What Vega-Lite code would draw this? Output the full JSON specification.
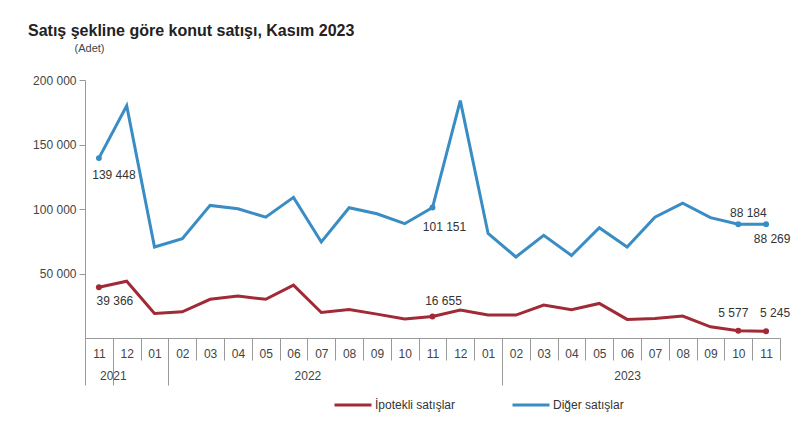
{
  "$schema": "https://vega.github.io/schema/vega-lite/v6.json",
  "width": 695,
  "height": 258,
  "autosize": {"type": "none"},
  "padding": {"left": 85, "top": 80, "right": 22, "bottom": 85},
  "background": "white",
  "title": {
    "text": "Satış şekline göre konut satışı, Kasım 2023",
    "anchor": "start",
    "frame": "group",
    "dx": -57,
    "offset": 3,
    "font": "Liberation Sans",
    "fontSize": 16,
    "fontWeight": "bold",
    "color": "#222222"
  },
  "config": {
    "view": {"stroke": null},
    "font": "Liberation Sans",
    "axis": {"labelFont": "Liberation Sans", "labelColor": "#444444", "labelFontSize": 12, "domainColor": "#999999", "tickColor": "#999999", "grid": false}
  },
  "data": {
    "values": [
      {"ay": "2021-11", "seri": "İpotekli satışlar", "deger": 39366, "etiket": "39 366"},
      {"ay": "2021-12", "seri": "İpotekli satışlar", "deger": 44000},
      {"ay": "2022-01", "seri": "İpotekli satışlar", "deger": 19000},
      {"ay": "2022-02", "seri": "İpotekli satışlar", "deger": 20300},
      {"ay": "2022-03", "seri": "İpotekli satışlar", "deger": 30000},
      {"ay": "2022-04", "seri": "İpotekli satışlar", "deger": 32500},
      {"ay": "2022-05", "seri": "İpotekli satışlar", "deger": 30000},
      {"ay": "2022-06", "seri": "İpotekli satışlar", "deger": 41000},
      {"ay": "2022-07", "seri": "İpotekli satışlar", "deger": 19800},
      {"ay": "2022-08", "seri": "İpotekli satışlar", "deger": 22000},
      {"ay": "2022-09", "seri": "İpotekli satışlar", "deger": 18500},
      {"ay": "2022-10", "seri": "İpotekli satışlar", "deger": 14700},
      {"ay": "2022-11", "seri": "İpotekli satışlar", "deger": 16655, "etiket": "16 655"},
      {"ay": "2022-12", "seri": "İpotekli satışlar", "deger": 21600},
      {"ay": "2023-01", "seri": "İpotekli satışlar", "deger": 17800},
      {"ay": "2023-02", "seri": "İpotekli satışlar", "deger": 17800},
      {"ay": "2023-03", "seri": "İpotekli satışlar", "deger": 25500},
      {"ay": "2023-04", "seri": "İpotekli satışlar", "deger": 22000},
      {"ay": "2023-05", "seri": "İpotekli satışlar", "deger": 26800},
      {"ay": "2023-06", "seri": "İpotekli satışlar", "deger": 14400},
      {"ay": "2023-07", "seri": "İpotekli satışlar", "deger": 15200},
      {"ay": "2023-08", "seri": "İpotekli satışlar", "deger": 17000},
      {"ay": "2023-09", "seri": "İpotekli satışlar", "deger": 8700},
      {"ay": "2023-10", "seri": "İpotekli satışlar", "deger": 5577, "etiket": "5 577"},
      {"ay": "2023-11", "seri": "İpotekli satışlar", "deger": 5245, "etiket": "5 245"},
      {"ay": "2021-11", "seri": "Diğer satışlar", "deger": 139448, "etiket": "139 448"},
      {"ay": "2021-12", "seri": "Diğer satışlar", "deger": 180000},
      {"ay": "2022-01", "seri": "Diğer satışlar", "deger": 70500},
      {"ay": "2022-02", "seri": "Diğer satışlar", "deger": 77000},
      {"ay": "2022-03", "seri": "Diğer satışlar", "deger": 102800},
      {"ay": "2022-04", "seri": "Diğer satışlar", "deger": 100200},
      {"ay": "2022-05", "seri": "Diğer satışlar", "deger": 93700},
      {"ay": "2022-06", "seri": "Diğer satışlar", "deger": 109000},
      {"ay": "2022-07", "seri": "Diğer satışlar", "deger": 74400},
      {"ay": "2022-08", "seri": "Diğer satışlar", "deger": 101000},
      {"ay": "2022-09", "seri": "Diğer satışlar", "deger": 96300},
      {"ay": "2022-10", "seri": "Diğer satışlar", "deger": 88600},
      {"ay": "2022-11", "seri": "Diğer satışlar", "deger": 101151, "etiket": "101 151"},
      {"ay": "2022-12", "seri": "Diğer satışlar", "deger": 184000},
      {"ay": "2023-01", "seri": "Diğer satışlar", "deger": 81000},
      {"ay": "2023-02", "seri": "Diğer satışlar", "deger": 62800},
      {"ay": "2023-03", "seri": "Diğer satışlar", "deger": 79600},
      {"ay": "2023-04", "seri": "Diğer satışlar", "deger": 64000},
      {"ay": "2023-05", "seri": "Diğer satışlar", "deger": 85500},
      {"ay": "2023-06", "seri": "Diğer satışlar", "deger": 70500},
      {"ay": "2023-07", "seri": "Diğer satışlar", "deger": 93700},
      {"ay": "2023-08", "seri": "Diğer satışlar", "deger": 104500},
      {"ay": "2023-09", "seri": "Diğer satışlar", "deger": 93300},
      {"ay": "2023-10", "seri": "Diğer satışlar", "deger": 88184, "etiket": "88 184"},
      {"ay": "2023-11", "seri": "Diğer satışlar", "deger": 88269, "etiket": "88 269"}
    ]
  },
  "encoding": {
    "y": {
      "field": "deger",
      "type": "quantitative",
      "scale": {"domain": [0, 200000], "nice": false},
      "axis": {
        "title": "(Adet)",
        "titleAngle": 0,
        "titleX": 4,
        "titleY": -32,
        "titleAlign": "center",
        "titleBaseline": "middle",
        "titleFontWeight": "normal",
        "titleFontSize": 11,
        "titleColor": "#444444",
        "titleFont": "Liberation Sans",
        "values": [50000, 100000, 150000, 200000],
        "labelExpr": "replace(format(datum.value, ','), ',', ' ')",
        "tickSize": 6,
        "labelPadding": 3
      }
    },
    "color": {
      "field": "seri",
      "type": "nominal",
      "scale": {"domain": ["İpotekli satışlar", "Diğer satışlar"], "range": ["#a02a36", "#3a8cc4"]},
      "legend": null
    }
  },
  "layer": [
    {
      "encoding": {
        "x": {
          "field": "ay",
          "type": "ordinal",
          "scale": {"type": "band", "paddingInner": 0, "paddingOuter": 0},
          "axis": {
            "orient": "bottom",
            "title": null,
            "labelAngle": 0,
            "labelExpr": "isValid(datum.value) ? substring(datum.value, 5) : ''",
            "tickBand": "extent",
            "tickSize": 22,
            "labelPadding": -12,
            "labelOverlap": false
          }
        }
      },
      "layer": [
        {
          "mark": {"type": "line", "strokeWidth": 3},
          "encoding": {
            "color": {
              "field": "seri",
              "type": "nominal",
              "scale": {"domain": ["İpotekli satışlar", "Diğer satışlar"], "range": ["#a02a36", "#3a8cc4"]},
              "legend": {
                "orient": "none",
                "legendX": 248,
                "legendY": 305,
                "title": null,
                "direction": "horizontal",
                "symbolType": "stroke",
                "symbolStrokeWidth": 3,
                "symbolSize": 1369,
                "labelFontSize": 12,
                "labelColor": "#333333",
                "labelFont": "Liberation Sans",
                "columnPadding": 50,
                "labelOffset": 2
              }
            }
          }
        },
        {"transform": [{"filter": "datum.ay == '2021-11' && datum.seri == 'Diğer satışlar'"}], "mark": {"type": "text", "dx": 15, "dy": 17, "fontSize": 12}, "encoding": {"text": {"field": "etiket"}, "color": {"value": "#333333"}}},
        {"transform": [{"filter": "datum.ay == '2022-11' && datum.seri == 'Diğer satışlar'"}], "mark": {"type": "text", "dx": 12, "dy": 19, "fontSize": 12}, "encoding": {"text": {"field": "etiket"}, "color": {"value": "#333333"}}},
        {"transform": [{"filter": "datum.ay == '2023-10' && datum.seri == 'Diğer satışlar'"}], "mark": {"type": "text", "dx": 10, "dy": -11, "fontSize": 12}, "encoding": {"text": {"field": "etiket"}, "color": {"value": "#333333"}}},
        {"transform": [{"filter": "datum.ay == '2023-11' && datum.seri == 'Diğer satışlar'"}], "mark": {"type": "text", "dx": 6, "dy": 15, "fontSize": 12}, "encoding": {"text": {"field": "etiket"}, "color": {"value": "#333333"}}},
        {"transform": [{"filter": "datum.ay == '2021-11' && datum.seri == 'İpotekli satışlar'"}], "mark": {"type": "text", "dx": 16, "dy": 14, "fontSize": 12}, "encoding": {"text": {"field": "etiket"}, "color": {"value": "#333333"}}},
        {"transform": [{"filter": "datum.ay == '2022-11' && datum.seri == 'İpotekli satışlar'"}], "mark": {"type": "text", "dx": 11, "dy": -16, "fontSize": 12}, "encoding": {"text": {"field": "etiket"}, "color": {"value": "#333333"}}},
        {"transform": [{"filter": "datum.ay == '2023-10' && datum.seri == 'İpotekli satışlar'"}], "mark": {"type": "text", "dx": -5, "dy": -18, "fontSize": 12}, "encoding": {"text": {"field": "etiket"}, "color": {"value": "#333333"}}},
        {"transform": [{"filter": "datum.ay == '2023-11' && datum.seri == 'İpotekli satışlar'"}], "mark": {"type": "text", "dx": 9, "dy": -18, "fontSize": 12}, "encoding": {"text": {"field": "etiket"}, "color": {"value": "#333333"}}}
      ]
    },
    {
      "transform": [{"filter": "isValid(datum.etiket)"}],
      "mark": {"type": "point", "filled": true, "size": 35, "opacity": 1},
      "encoding": {
        "x": {
          "field": "ay",
          "type": "ordinal",
          "scale": {
            "type": "band",
            "paddingInner": 0,
            "paddingOuter": 0,
            "domain": ["2021-11", "2021-12", "2022-01", "2022-02", "2022-03", "2022-04", "2022-05", "2022-06", "2022-07", "2022-08", "2022-09", "2022-10", "2022-11", "2022-12", "2023-01", "2023-02", "2023-03", "2023-04", "2023-05", "2023-06", "2023-07", "2023-08", "2023-09", "2023-10", "2023-11"]
          },
          "axis": {
            "orient": "bottom",
            "title": null,
            "domain": false,
            "tickBand": "extent",
            "tickSize": 47,
            "tickOpacity": {"condition": {"test": "!isValid(datum.value) || datum.value == '2021-11' || datum.value == '2022-01' || datum.value == '2023-01'", "value": 1}, "value": 0},
            "labelAngle": 0,
            "labelOverlap": false,
            "labelExpr": "datum.value == '2021-12' ? '2021' : datum.value == '2022-07' ? '2022' : datum.value == '2023-06' ? '2023' : ''",
            "labelOffset": {"condition": {"test": "datum.value == '2023-06'", "value": 0}, "value": -13.9},
            "labelPadding": -15
          }
        }
      }
    }
  ],
  "resolve": {"scale": {"x": "independent"}, "axis": {"x": "independent"}}
}
